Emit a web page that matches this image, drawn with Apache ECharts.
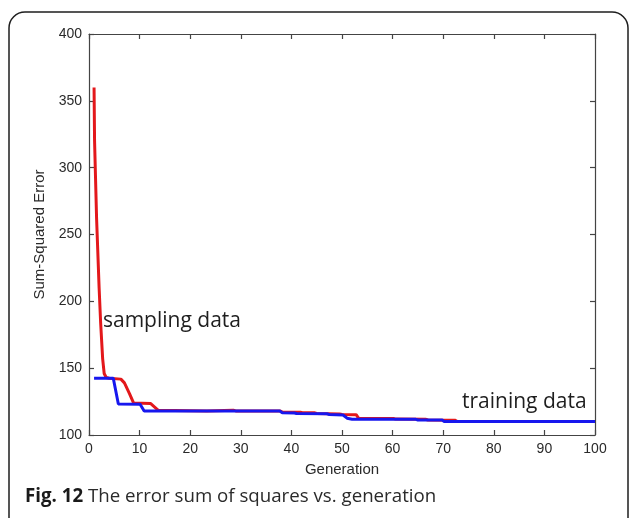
<!DOCTYPE html>
<html>
<head>
<meta charset="utf-8">
<script src="https://cdn.jsdelivr.net/npm/echarts@6/dist/echarts.min.js"></script>
<style>
html,body{margin:0;padding:0;background:#fff;}
#chart{width:630px;height:518px;}
</style>
</head>
<body>
<div id="chart"></div>
<script>
// Sampling data (red): [generation, sum-squared error]
var samplingData = [
  [1,360],[1.1,320],[1.5,262],[2,210],[2.3,184],[2.7,157],[3,146],[3.4,143],[4,142.5],
  [6.3,141.8],[7,139],[8,131],[8.8,124],[12.2,123.5],[13.7,118.5],[23.3,118],[23.6,118.6],
  [28.5,118.6],[29,118],[37.8,118],[38.2,117.1],[41.8,117],[42.2,116.7],[44.5,116.6],
  [45,116.1],[49.5,115.8],[50,115.3],[52.8,115.2],[53.3,112.5],[60.2,112.3],[60.6,111.9],
  [66.5,111.8],[67,111.2],[72.3,111.1],[72.8,110.1],[100,110.1]
];
// Training data (blue)
var trainingData = [
  [1,142.5],[4.8,142.5],[5.8,123.2],[10.1,123],[10.9,118],[37.7,117.9],[38.2,116.6],
  [40.6,116.5],[41,116.1],[47,115.9],[47.5,115.3],[50.2,115],[51,112.6],[52,111.8],
  [64.6,111.7],[65,111.2],[69.8,111.2],[70.2,110.1],[100,110.1]
];
var xTicks = {min:0, max:100, interval:10};
var yTicks = {min:100, max:400, interval:50};
var xName = 'Generation';
var yName = 'Sum-Squared Error';
var seriesNames = ['sampling data','training data'];
var captionBold = 'Fig. 12';
var captionText = ' The error sum of squares vs. generation';

var axisColor = '#444444';
var tickFont = "'Liberation Sans Narrow','Arial Narrow','Liberation Sans',Arial,sans-serif";

function baseAxis(extra){
  var a = {
    type:'value',
    axisLine:{show:true, onZero:false, lineStyle:{color:axisColor, width:1.2}},
    axisTick:{show:true, inside:true, length:5, lineStyle:{color:axisColor, width:1.2}},
    splitLine:{show:false},
    axisLabel:{color:'#2a2a2a', fontFamily:tickFont, fontSize:14}
  };
  for (var k in extra) a[k] = extra[k];
  return a;
}

var chart = echarts.init(document.getElementById('chart'), null, {renderer:'canvas'});
chart.setOption({
  animation:false,
  backgroundColor:'#fff',
  grid:{left:89, right:35, top:34, bottom:83, containLabel:false},
  xAxis:[
    baseAxis({position:'bottom', min:xTicks.min, max:xTicks.max, interval:xTicks.interval,
      name:xName, nameLocation:'middle', nameGap:27,
      nameTextStyle:{color:'#2a2a2a', fontFamily:tickFont, fontSize:15},
      axisLabel:{color:'#2a2a2a', fontFamily:tickFont, fontSize:14, margin:7}}),
    baseAxis({position:'top', min:xTicks.min, max:xTicks.max, interval:xTicks.interval,
      axisLabel:{show:false}})
  ],
  yAxis:[
    baseAxis({position:'left', min:yTicks.min, max:yTicks.max, interval:yTicks.interval,
      name:yName, nameLocation:'middle', nameGap:36,
      nameTextStyle:{color:'#2a2a2a', fontFamily:tickFont, fontSize:15},
      axisLabel:{color:'#2a2a2a', fontFamily:tickFont, fontSize:14, margin:7}}),
    baseAxis({position:'right', min:yTicks.min, max:yTicks.max, interval:yTicks.interval,
      axisLabel:{show:false}})
  ],
  series:[
    {name:seriesNames[0], type:'line', data:samplingData, showSymbol:false, symbol:'none',
      lineStyle:{color:'#e3181b', width:3}, z:2},
    {name:seriesNames[1], type:'line', data:trainingData, showSymbol:false, symbol:'none',
      lineStyle:{color:'#1717ee', width:3}, z:3}
  ],
  graphic:[
    {type:'rect', shape:{x:9, y:12, width:619, height:540, r:16},
      style:{fill:'none', stroke:'#1e1e1e', lineWidth:1.5}, silent:true, z:-1},
    {type:'text', left:103, top:311,
      style:{text:seriesNames[0], fontFamily:"'Open Sans',sans-serif", fontSize:21, fill:'#1e1e1e'}},
    {type:'text', left:462, top:392,
      style:{text:seriesNames[1], fontFamily:"'Open Sans',sans-serif", fontSize:21, fill:'#1e1e1e'}},
    {type:'text', left:25, top:487,
      style:{text:'{b|'+captionBold+'}{r|'+captionText+'}',
        rich:{
          b:{fontFamily:"'Open Sans',sans-serif", fontWeight:'bold', fontSize:18.7, fill:'#1a1a1a'},
          r:{fontFamily:"'Open Sans',sans-serif", fontSize:18.7, fill:'#2a2a2a'}
        }}}
  ]
});
</script>
</body>
</html>
